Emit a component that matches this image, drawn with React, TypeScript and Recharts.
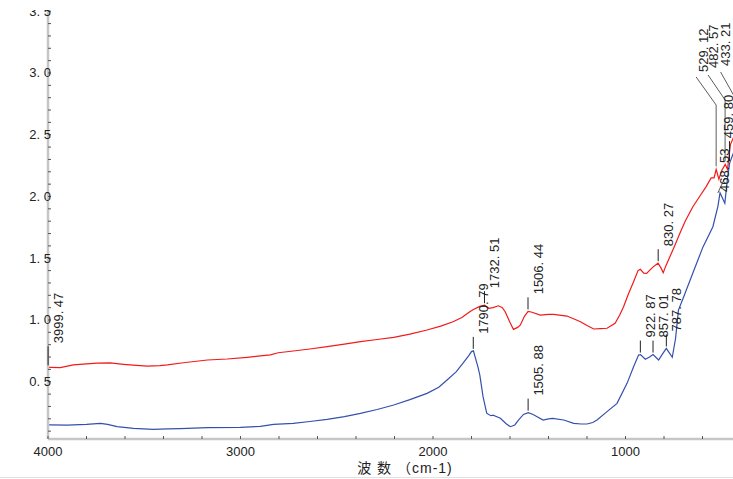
import { LineChart, Line, XAxis, YAxis, ReferenceDot } from 'recharts';

// IR spectra, wavenumber (cm-1) vs absorbance
const redWavenumbers = [
  4000, 3999.47, 3988, 3936, 3868, 3800, 3744, 3676, 3608, 3540, 3484, 3420, 3380, 3297, 3172, 3069,
  2965, 2897, 2845, 2804, 2726, 2640, 2550, 2460, 2377, 2290, 2204, 2120, 2031, 1960, 1896, 1850,
  1809, 1790, 1757, 1732, 1710, 1688, 1660, 1640, 1625, 1600, 1582, 1560, 1546, 1525, 1506, 1490,
  1442, 1400, 1373, 1304, 1270, 1234, 1200, 1165, 1130, 1096, 1054, 1030, 1010, 985, 958, 935,
  923, 905, 890, 870, 856, 831, 815, 804, 790, 770, 745, 718, 690, 650, 615, 581, 555, 540, 529,
  515, 500, 482, 470, 455, 433, 400,
];
const redAbsorbance = [
  0.3, 0.617, 0.617, 0.615, 0.636, 0.645, 0.65, 0.652, 0.641, 0.632, 0.626, 0.63, 0.636, 0.654, 0.676, 0.684,
  0.698, 0.709, 0.717, 0.735, 0.749, 0.765, 0.784, 0.805, 0.825, 0.842, 0.86, 0.885, 0.919, 0.95, 0.986, 1.02,
  1.067, 1.085, 1.11, 1.12, 1.095, 1.1, 1.115, 1.1, 1.067, 0.98, 0.924, 0.94, 0.96, 1.03, 1.07, 1.065,
  1.04, 1.045, 1.046, 1.032, 1.01, 0.986, 0.955, 0.927, 0.93, 0.933, 0.973, 1.04, 1.108, 1.21, 1.31, 1.4,
  1.41, 1.38, 1.378, 1.41, 1.43, 1.46, 1.42, 1.383, 1.44, 1.51, 1.6, 1.7, 1.8, 1.917, 2.0, 2.08, 2.15, 2.15, 2.22,
  2.14, 2.21, 2.26, 2.22, 2.42, 2.5, 2.6,
];

const blueWavenumbers = [
  4000, 3988, 3900, 3868, 3800, 3728, 3690, 3641, 3556, 3452, 3380, 3312, 3172, 3001, 2897, 2828,
  2726, 2640, 2550, 2460, 2377, 2290, 2204, 2120, 2031, 1970, 1927, 1880, 1844, 1815, 1800, 1790,
  1767, 1757, 1740, 1721, 1700, 1688, 1665, 1650, 1620, 1598, 1575, 1556, 1530, 1505, 1480, 1459,
  1428, 1400, 1379, 1321, 1269, 1230, 1200, 1170, 1148, 1096, 1044, 992, 958, 932, 922, 897, 875,
  857, 828, 810, 788, 775, 757, 740, 725, 697, 650, 598, 546, 520, 509, 484, 470, 459, 440, 400,
];
const blueAbsorbance = [
  0.15, 0.15, 0.148, 0.15, 0.155, 0.163, 0.155, 0.136, 0.123, 0.115, 0.118, 0.12, 0.128, 0.131, 0.138, 0.155,
  0.163, 0.178, 0.196, 0.218, 0.244, 0.275, 0.312, 0.355, 0.406, 0.455, 0.514, 0.58, 0.65, 0.71, 0.744, 0.75,
  0.622, 0.555, 0.379, 0.245, 0.225, 0.23, 0.215, 0.204, 0.16, 0.136, 0.15, 0.19, 0.235, 0.25, 0.235, 0.217,
  0.19, 0.2, 0.204, 0.19, 0.163, 0.158, 0.158, 0.17, 0.19, 0.258, 0.325, 0.487, 0.622, 0.717, 0.72, 0.682, 0.7,
  0.72, 0.676, 0.72, 0.77, 0.74, 0.698, 0.85, 1.08, 1.19, 1.38, 1.59, 1.755, 1.92, 2.03, 1.945, 2.15, 2.27, 2.35, 2.45,
];

const redPeakWavenumbers = [3999.47, 1732.51, 1506.44, 830.27, 529.12, 482.57, 433.21, 468.53];
const redPeakAbsorbance = [0.617, 1.12, 1.07, 1.46, 2.22, 2.26, 2.5, 2.22];
const redPeakLabels = ['3999. 47', '1732. 51', '1506. 44', '830. 27', '529. 12', '482. 57', '433. 21', '468. 53'];

const bluePeakWavenumbers = [1790.79, 1505.88, 922.87, 857.01, 787.78, 459.8];
const bluePeakAbsorbance = [0.75, 0.25, 0.72, 0.72, 0.77, 2.27];
const bluePeakLabels = ['1790. 79', '1505. 88', '922. 87', '857. 01', '787. 78', '459. 80'];

const xTicks = [4000, 3800, 3600, 3400, 3200, 3000, 2800, 2600, 2400, 2200, 2000, 1800, 1600, 1400, 1200, 1000, 800, 600, 400];
const xTickLabels = [4000, 3000, 2000, 1000];
const yTicks = [
  0.1, 0.2, 0.3, 0.4, 0.5, 0.6, 0.7, 0.8, 0.9, 1.0, 1.1, 1.2, 1.3, 1.4, 1.5, 1.6, 1.7, 1.8,
  1.9, 2.0, 2.1, 2.2, 2.3, 2.4, 2.5, 2.6, 2.7, 2.8, 2.9, 3.0, 3.1, 3.2, 3.3, 3.4, 3.5,
];
const yTickLabels = ['0.5', '1.0', '1.5', '2.0', '2.5', '3.0', '3.5'];

const redData = redWavenumbers.map((w, i) => ({ w, a: redAbsorbance[i] }));
const blueData = blueWavenumbers.map((w, i) => ({ w, a: blueAbsorbance[i] }));

const FONT = '"Liberation Sans", Arial, sans-serif';
const AXIS_COLOR = '#c6c6c6';

// leader layouts for the crowded labels at the right edge (dx relative to point, y absolute)
type Leader = { dx?: number; tick?: number; path?: [number, number][]; fromPoint?: boolean; textY?: number };
const LEADERS: Record<string, Leader> = {
  '3999. 47': { tick: 19 },
  '529. 12': { fromPoint: true, path: [[0, 105], [-20, 77]], dx: -8, textY: 72 },
  '482. 57': { fromPoint: true, path: [[0, 100], [-17, 75]], dx: -7, textY: 68 },
  '433. 21': { fromPoint: true, path: [[0, 97], [-14, 72]], dx: -5, textY: 66 },
  '468. 53': { path: [[-10, 193], [-3, 178]], dx: 1, textY: 192 },
  '459. 80': { dx: 4, tick: 20 },
};

function PeakMark({ cx, cy, text }: any) {
  const l = LEADERS[text] || {};
  if (l.path) {
    const pts = l.path.map(([dx, y]) => `${cx + dx},${y}`);
    if (l.fromPoint) pts.unshift(`${cx},${cy - 3}`);
    return (
      <g>
        <polyline points={pts.join(' ')} fill="none" stroke="#333" strokeWidth={0.8} />
        <text transform={`translate(${cx + (l.dx ?? 0)},${l.textY}) rotate(-90)`} fontSize={13} fill="#222" fontFamily={FONT}>
          {text}
        </text>
      </g>
    );
  }
  const tick = l.tick ?? 12;
  const top = cy - 2 - tick;
  return (
    <g>
      <line x1={cx} x2={cx} y1={cy - 2} y2={top} stroke="#222" strokeWidth={1} />
      <text transform={`translate(${cx + (l.dx ?? 15)},${top - 3}) rotate(-90)`} fontSize={13} fill="#222" fontFamily={FONT}>
        {text}
      </text>
    </g>
  );
}

const YTick = ({ x, y, payload }: any) => {
  const label = yTickLabels.find(t => Math.abs(Number(t) - payload.value) < 1e-6);
  return (
    <g>
      <line x1={x} x2={x + 3} y1={y} y2={y} stroke="#555" strokeWidth={1} />
      {label && (
        <text x={x + 3} y={y + 4.5} textAnchor="end" fontSize={13} fill="#222" fontFamily={FONT}>
          {label.replace('.', '. ')}
        </text>
      )}
    </g>
  );
};

const XTick = ({ x, y, payload }: any) => (
  <g>
    <line x1={x} x2={x} y1={y} y2={y - 3} stroke="#555" strokeWidth={1} />
    {xTickLabels.includes(payload.value) && (
      <text x={x} y={y + 17} textAnchor="middle" fontSize={13} fill="#222" fontFamily={FONT}>
        {payload.value}
      </text>
    )}
  </g>
);

export default function App() {
  return (
    <div style={{ position: 'fixed', left: 0, top: 0, width: 733, height: 479, background: '#fff', overflow: 'hidden' }}>
      <div style={{ position: 'absolute', left: 0, top: 10, width: 733, height: 469, overflow: 'hidden' }}>
        <div style={{ position: 'absolute', left: 0, top: -10 }}>
          <LineChart width={760} height={479} margin={{ top: 0, right: 19, bottom: 0, left: 0 }} style={{ fontFamily: FONT }}>
            <XAxis
              type="number"
              dataKey="w"
              domain={[400, 4000]}
              reversed
              allowDataOverflow
              ticks={xTicks}
              interval={0}
              height={40}
              tickSize={0}
              tickMargin={0}
              tickLine={false}
              tick={<XTick />}
              axisLine={{ stroke: AXIS_COLOR, strokeWidth: 2.5 }}
            />
            <YAxis
              type="number"
              dataKey="a"
              domain={[0.0364, 3.591]}
              allowDataOverflow
              ticks={yTicks}
              interval={0}
              width={48}
              tickSize={0}
              tickMargin={0}
              tickLine={false}
              tick={<YTick />}
              axisLine={{ stroke: AXIS_COLOR, strokeWidth: 2.5 }}
            />
            <Line data={redData} dataKey="a" type="linear" stroke="#f21a1a" strokeWidth={1.2} dot={false} isAnimationActive={false} />
            <Line data={blueData} dataKey="a" type="linear" stroke="#3450ad" strokeWidth={1.2} dot={false} isAnimationActive={false} />
            {redPeakWavenumbers.map((w, i) => (
              <ReferenceDot
                key={`r${i}`}
                x={w}
                y={redPeakAbsorbance[i]}
                r={0}
                ifOverflow="visible"
                shape={(p: any) => <PeakMark cx={p.cx} cy={p.cy} text={redPeakLabels[i]} />}
              />
            ))}
            {bluePeakWavenumbers.map((w, i) => (
              <ReferenceDot
                key={`b${i}`}
                x={w}
                y={bluePeakAbsorbance[i]}
                r={0}
                ifOverflow="visible"
                shape={(p: any) => <PeakMark cx={p.cx} cy={p.cy} text={bluePeakLabels[i]} />}
              />
            ))}
          </LineChart>
        </div>
      </div>
      <div
        style={{
          position: 'absolute', left: 0, top: 459, width: 810, textAlign: 'center',
          fontSize: 14, lineHeight: '18px', color: '#222', letterSpacing: 1,
          fontFamily: '"Liberation Sans", "Noto Sans CJK SC", sans-serif',
        }}
      >
        波 数 （cm-1)
      </div>
      <div style={{ position: 'absolute', left: 0, top: 477, width: 733, height: 1, background: '#e2e2e2' }} />
    </div>
  );
}
